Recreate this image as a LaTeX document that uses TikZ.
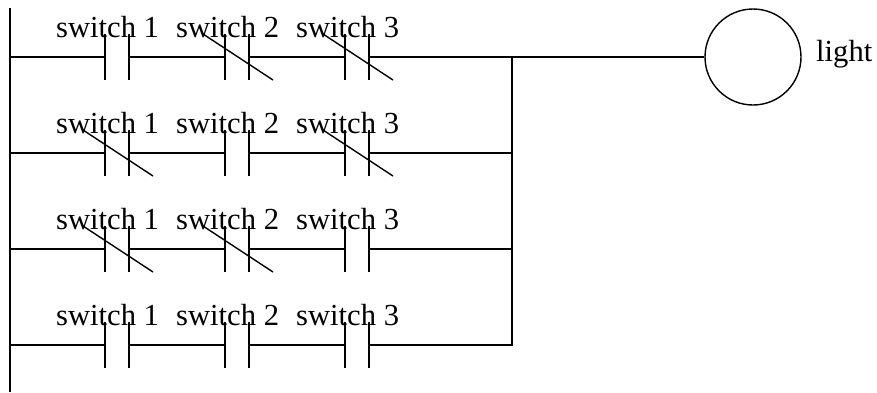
\documentclass[tikz,border=0pt]{standalone}
\usepackage{fontspec}
\setmainfont{Liberation Serif}

\tikzset{
	wire/.style = {line width=2.5pt},
	plate/.style = {line width=2.5pt},
	slash/.style = {line width=1.4pt},
	contact/.style = {inner sep=0pt, outer sep=0pt, minimum width=24pt, minimum height=46pt},
	tag/.style = {inner sep=0pt, anchor=base west, font=\fontsize{30.6}{36}\selectfont},
	lamp/.style = {circle, draw, line width=1.4pt, minimum size=96pt, inner sep=0pt}
}

\begin{document}
\begin{tikzpicture}[x=1pt, y=-1pt]
				\useasboundingbox (0,0) rectangle (877,392);
				%\draw[help lines] (0,0) grid (877,392);
				
				\coordinate (top) at (10,8);
				\coordinate (bot) at (10,392);
				\coordinate (l1) at (10,57);
				\coordinate (l2) at (10,153);
				\coordinate (l3) at (10,249);
				\coordinate (l4) at (10,345);
				\coordinate (j1) at (512,57);
				\coordinate (j2) at (512,153);
				\coordinate (j3) at (512,249);
				\coordinate (j4) at (512,345);
				
				\node[contact] (a1) at (117,57) {};
				\node[contact] (b1) at (237,57) {};
				\node[contact] (c1) at (357,57) {};
				\node[contact] (a2) at (117,153) {};
				\node[contact] (b2) at (237,153) {};
				\node[contact] (c2) at (357,153) {};
				\node[contact] (a3) at (117,249) {};
				\node[contact] (b3) at (237,249) {};
				\node[contact] (c3) at (357,249) {};
				\node[contact] (a4) at (117,345) {};
				\node[contact] (b4) at (237,345) {};
				\node[contact] (c4) at (357,345) {};
				
				\node[lamp] (lamp) at (753,57) {};
				\node[tag] (light) at (816,61) {light};
				
				\node[tag] (ta1) at (56,37) {switch 1};
				\node[tag] (tb1) at (176,37) {switch 2};
				\node[tag] (tc1) at (296,37) {switch 3};
				\node[tag] (ta2) at (56,133) {switch 1};
				\node[tag] (tb2) at (176,133) {switch 2};
				\node[tag] (tc2) at (296,133) {switch 3};
				\node[tag] (ta3) at (56,229) {switch 1};
				\node[tag] (tb3) at (176,229) {switch 2};
				\node[tag] (tc3) at (296,229) {switch 3};
				\node[tag] (ta4) at (56,325) {switch 1};
				\node[tag] (tb4) at (176,325) {switch 2};
				\node[tag] (tc4) at (296,325) {switch 3};
				
				\foreach \c in {a1,b1,c1,a2,b2,c2,a3,b3,c3,a4,b4,c4}
					\draw[plate] (\c.north west) -- (\c.south west) (\c.north east) -- (\c.south east);
				% normally closed
				\foreach \c in {b1,c1,a2,c2,a3,b3}
					\draw[slash] ([xshift=-22pt]\c.north west) -- ([xshift=24pt]\c.south east);
				
				\draw[wire] (top) -- (bot);
				\draw[wire] (l1) -- (a1.west) (a1.east) -- (b1.west) (b1.east) -- (c1.west) (c1.east) -- (lamp.west);
				\draw[wire] (l2) -- (a2.west) (a2.east) -- (b2.west) (b2.east) -- (c2.west) (c2.east) -- (j2);
				\draw[wire] (l3) -- (a3.west) (a3.east) -- (b3.west) (b3.east) -- (c3.west) (c3.east) -- (j3);
				\draw[wire] (l4) -- (a4.west) (a4.east) -- (b4.west) (b4.east) -- (c4.west) (c4.east) -- (j4) -- (j1);
			\end{tikzpicture}
\end{document}
